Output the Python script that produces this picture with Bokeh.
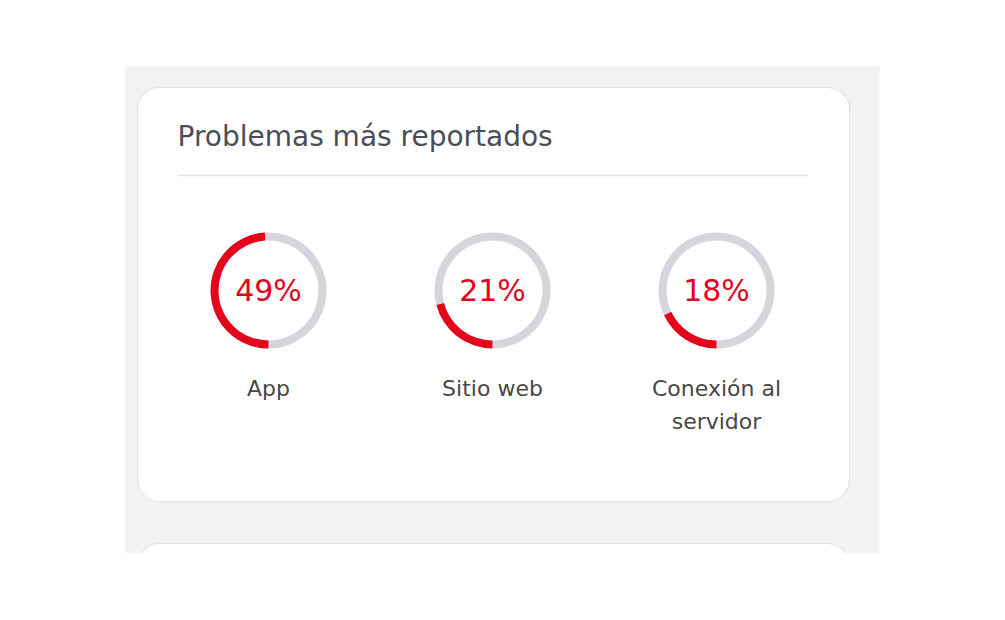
from bokeh.plotting import figure
from bokeh.models import Range1d, BoxAnnotation, ColumnDataSource
from bokeh.core.properties import value
from bokeh.embed import file_html
from bokeh.resources import INLINE
import math

# ---- data ----
title = "Problemas más reportados"
categories = ["App", "Sitio web", "Conexión al\nservidor"]
percents = [49, 21, 18]
pct_labels = ["49%", "21%", "18%"]

# ---- style ----
RED = "#e3051b"
RING_GREY = "#d4d6dc"
PANEL_GREY = "#f2f2f2"
CARD_BORDER = "#e4e4e4"
TITLE_COLOR = "#4a4e58"
LABEL_COLOR = "#484848"
FONT = "DejaVu Sans"

# data coords == screen px (y negated)
W, H = 989, 553
p = figure(width=W, height=H, output_backend="svg", toolbar_location=None,
           x_range=Range1d(0, W), y_range=Range1d(-H, 0),
           min_border=0, border_fill_color="white", background_fill_color="white")
p.axis.visible = False
p.grid.visible = False
p.outline_line_color = None

def box(l, r, t, b, fill, line=None, radius=0):
    ba = BoxAnnotation(left=l, right=r, top=-t, bottom=-b, fill_color=fill, fill_alpha=1,
                       line_color=line, line_alpha=1 if line else 0, line_width=1.2,
                       border_radius=radius, level="underlay")
    p.add_layout(ba)

# grey panel and cards
box(125, 879, 66, 600, PANEL_GREY)
box(137, 849, 87, 501, "white", CARD_BORDER, 22)
box(137, 849, 543, 640, "white", CARD_BORDER, 22)

# title and divider
p.text(x=[177], y=[-136], text=[title], text_font=value(FONT), text_font_size="28px",
       text_color=TITLE_COLOR, text_align="left", text_baseline="alphabetic")
p.segment(x0=[177], x1=[808], y0=[-175], y1=[-175], line_color="#e4e4e4", line_width=1.5)

# donuts
cx = [268, 492, 716]
cy = [-290] * 3
start = math.radians(270)
red_start = [start - v / 100 * 2 * math.pi for v in percents]
red_end = [start] * 3
grey_start = [start] * 3
grey_end = [s + 2 * math.pi for s in red_start]

src = ColumnDataSource(dict(x=cx, y=cy, rs=red_start, re=red_end, gs=grey_start, ge=grey_end,
                            pct=pct_labels, ty=[-290] * 3))
p.annular_wedge(x="x", y="y", inner_radius=50, outer_radius=58, start_angle="gs", end_angle="ge",
                direction="anticlock", fill_color=RING_GREY, line_color=None, source=src)
p.annular_wedge(x="x", y="y", inner_radius=50, outer_radius=58, start_angle="rs", end_angle="re",
                direction="anticlock", fill_color=RED, line_color=None, source=src)

p.text(x="x", y="ty", text="pct", source=src, text_font=value(FONT), text_font_size="30px",
       text_color=RED, text_align="center", text_baseline="alphabetic")

# category labels, one glyph per text line
lx, ly, lt = [], [], []
for x, cat in zip(cx, categories):
    for i, line in enumerate(cat.split("\n")):
        lx.append(x)
        ly.append(-(388 + 33 * i))
        lt.append(line)
src2 = ColumnDataSource(dict(x=lx, y=ly, t=lt))
p.text(x="x", y="y", text="t", source=src2, text_font=value(FONT), text_font_size="22px",
       text_color=LABEL_COLOR, text_align="center", text_baseline="alphabetic")

open("out.html", "w").write(file_html(p, INLINE))
